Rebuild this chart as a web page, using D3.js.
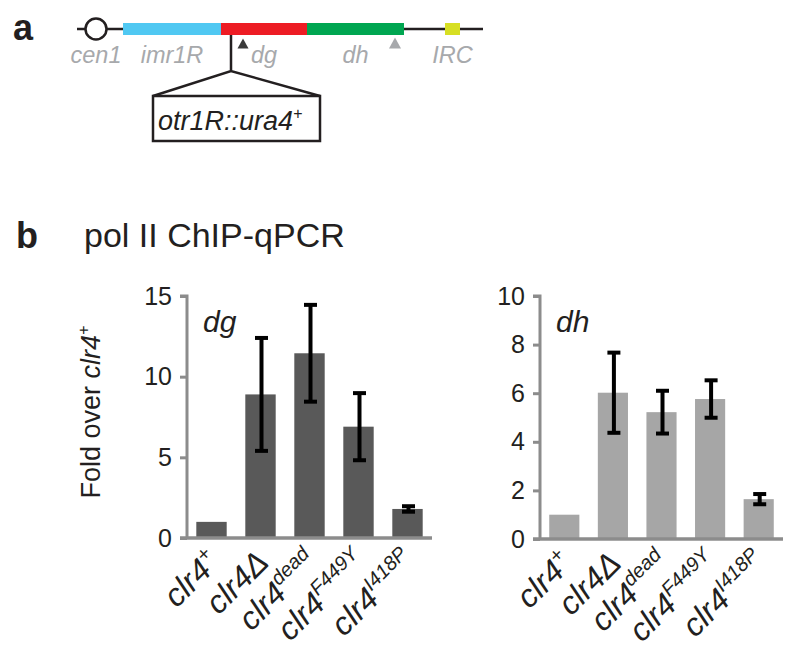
<!DOCTYPE html>
<html>
<head>
<meta charset="utf-8">
<script src="https://cdn.jsdelivr.net/npm/d3@7"></script>
<style>
  html, body { margin: 0; padding: 0; background: #fff; }
  svg { display: block; }
  text { font-family: "Liberation Sans", Arial, Helvetica, sans-serif; }
</style>
</head>
<body>
<svg id="chart" width="800" height="655"></svg>
<script>
// ---------------- DATA ----------------
// panel a: map features in relative map units
const mapExtent = [0, 406];
const centromerePos = 19;
const segNames = ["imr1R", "dg", "dh"];
const segStart = [46, 144, 230];
const segEnd = [144, 230, 327];
const segColors = ["#50c8f2", "#ed1c24", "#00a651"];
const ircStart = 368, ircEnd = 383;
const insertionPos = 154;
const primerDg = 166, primerDh = 318;
const mapLabels = ["cen1", "imr1R", "dg", "dh", "IRC"];
const mapLabelPos = [19, 95, 187, 278.5, 375.5];

// panel b: bar data
const strainMain = ["clr4", "clr4Δ", "clr4", "clr4", "clr4"];
const strainSup = ["+", "", "dead", "F449Y", "I418P"];
const categories = ["clr4+", "clr4Δ", "clr4dead", "clr4F449Y", "clr4I418P"];
const dgValues = [1.0, 8.9, 11.45, 6.9, 1.8];
const dgErrors = [0, 3.5, 3.0, 2.08, 0.17];
const dhValues = [1.0, 6.02, 5.22, 5.76, 1.64];
const dhErrors = [0, 1.65, 0.88, 0.77, 0.21];
const dgTicks = [0, 5, 10, 15];
const dhTicks = [0, 2, 4, 6, 8, 10];

// ---------------- DRAW ----------------
const svg = d3.select("#chart");
const FONT = "'Liberation Sans', Arial, Helvetica, sans-serif";

// ===== Panel a =====
svg.append("text").attr("x", 13).attr("y", 40)
  .attr("font-size", 36).attr("font-weight", "bold").attr("fill", "#231f20").text("a");

const mx = d3.scaleLinear().domain(mapExtent).range([77, 483]);
const lineY = 29;
const ga = svg.append("g");
ga.append("line").attr("x1", mx(mapExtent[0])).attr("x2", mx(mapExtent[1]))
  .attr("y1", lineY).attr("y2", lineY).attr("stroke", "#231f20").attr("stroke-width", 2.5);
ga.selectAll("rect.seg").data(segNames).join("rect").attr("class", "seg")
  .attr("x", (d, i) => mx(segStart[i])).attr("width", (d, i) => mx(segEnd[i]) - mx(segStart[i]))
  .attr("y", lineY - 6).attr("height", 12).attr("fill", (d, i) => segColors[i]);
ga.append("rect").attr("x", mx(ircStart)).attr("width", mx(ircEnd) - mx(ircStart))
  .attr("y", lineY - 6).attr("height", 12).attr("fill", "#d7df23");
ga.append("circle").attr("cx", mx(centromerePos)).attr("cy", lineY).attr("r", 10.5)
  .attr("fill", "#fff").attr("stroke", "#231f20").attr("stroke-width", 2.5);
ga.selectAll("text.maplab").data(mapLabels).join("text").attr("class", "maplab")
  .attr("x", (d, i) => mx(mapLabelPos[i])).attr("y", 63)
  .attr("text-anchor", "middle").attr("font-size", 23.5).attr("font-style", "italic")
  .attr("fill", "#a7a9ac").text(d => d);
// primer triangles
const tri = (x, yTop, w, h) => `M${x},${yTop} L${x + w / 2},${yTop + h} L${x - w / 2},${yTop + h} Z`;
ga.append("path").attr("d", tri(mx(primerDg), 38.5, 11, 10)).attr("fill", "#3a3a3a");
ga.append("path").attr("d", tri(mx(primerDh), 37.5, 12, 11)).attr("fill", "#a7a9ac");
// insertion
const ix = mx(insertionPos);
ga.append("path")
  .attr("d", `M${ix},${lineY + 6} L${ix},71 M${ix - 78},96 L${ix},71 L${ix + 89},96`)
  .attr("fill", "none").attr("stroke", "#231f20").attr("stroke-width", 2.5);
ga.append("rect").attr("x", ix - 78).attr("y", 96).attr("width", 167).attr("height", 45)
  .attr("fill", "#fff").attr("stroke", "#231f20").attr("stroke-width", 2.5);
const ins = ga.append("text").attr("x", ix - 73).attr("y", 130)
  .attr("font-size", 27).attr("font-style", "italic").attr("fill", "#231f20");
ins.append("tspan").text("otr1R::ura4");
ins.append("tspan").attr("dy", -11).attr("font-size", 16).text("+");

// ===== Panel b =====
svg.append("text").attr("x", 16).attr("y", 248)
  .attr("font-size", 36).attr("font-weight", "bold").attr("fill", "#231f20").text("b");
svg.append("text").attr("x", 84).attr("y", 247)
  .attr("font-size", 34).attr("fill", "#231f20").text("pol II ChIP-qPCR");

// y label
const yl = svg.append("text").attr("transform", "translate(100,412) rotate(-90)")
  .attr("text-anchor", "middle").attr("font-size", 27).attr("fill", "#231f20");
yl.append("tspan").text("Fold over ");
yl.append("tspan").attr("font-style", "italic").text("clr4");
yl.append("tspan").attr("font-style", "italic").attr("dy", -11).attr("font-size", 16).text("+");

function barPanel(opts) {
  const { values, errors, ticks, xRange, yRange, color, title, xAxisStart } = opts;
  const g = svg.append("g");
  const x = d3.scaleBand().domain(categories).range(xRange).paddingInner(0.38).paddingOuter(0.19);
  const y = d3.scaleLinear().domain([0, ticks[ticks.length - 1]]).range(yRange);
  const axisColor = "#8c8c8c";

  // bars
  g.selectAll("rect.bar").data(categories).join("rect").attr("class", "bar")
    .attr("x", d => x(d)).attr("width", x.bandwidth())
    .attr("y", (d, i) => y(values[i])).attr("height", (d, i) => y(0) - y(values[i]))
    .attr("fill", color);

  // error bars
  const capW = 13;
  const eb = g.selectAll("g.err").data(categories.filter((d, i) => errors[i] > 0)).join("g").attr("class", "err");
  eb.each(function (d) {
    const i = categories.indexOf(d);
    const cx = x(d) + x.bandwidth() / 2 + 1;
    const hi = y(values[i] + errors[i]), lo = y(values[i] - errors[i]);
    const s = d3.select(this);
    s.append("line").attr("x1", cx).attr("x2", cx).attr("y1", hi).attr("y2", lo)
      .attr("stroke", "#000").attr("stroke-width", 4);
    [hi, lo].forEach(yy => s.append("line").attr("x1", cx - capW / 2).attr("x2", cx + capW / 2)
      .attr("y1", yy).attr("y2", yy).attr("stroke", "#000").attr("stroke-width", 4));
  });

  // y axis
  const yAxis = d3.axisLeft(y).tickValues(ticks).tickSize(7).tickPadding(8).tickFormat(d3.format("d"));
  const ya = g.append("g").attr("transform", `translate(${xRange[0]},0)`).call(yAxis);
  ya.select(".domain").attr("stroke", axisColor).attr("stroke-width", 3)
    .attr("d", `M-7,${y(ticks[ticks.length - 1])} H0 V${y(0)}`);
  ya.selectAll(".tick line").attr("stroke", axisColor).attr("stroke-width", 3);
  ya.selectAll(".tick text").attr("font-size", 25).attr("fill", "#231f20")
    .attr("font-family", FONT);

  // x axis
  const xa = g.append("g").attr("transform", `translate(0,${y(0)})`)
    .call(d3.axisBottom(x).tickSize(0).tickFormat(""));
  xa.select(".domain").attr("stroke", axisColor).attr("stroke-width", 3.5)
    .attr("d", `M${xAxisStart},0 H${xRange[1]}`);

  // x labels
  const lab = g.selectAll("text.xlab").data(categories).join("text").attr("class", "xlab")
    .attr("transform", d => `translate(${x(d) + x.bandwidth() / 2 + 10},${y(0) + 26}) rotate(-45)`)
    .attr("text-anchor", "end").attr("font-size", 32).attr("font-style", "italic").attr("fill", "#231f20");
  lab.each(function (d, i) {
    const t = d3.select(this);
    t.append("tspan").text(strainMain[i]);
    if (strainSup[i]) t.append("tspan").attr("dy", -13).attr("font-size", 20).text(strainSup[i]);
  });

  // panel title
  g.append("text").attr("x", xRange[0] + 16).attr("y", y(ticks[ticks.length - 1]) + 36)
    .attr("font-size", 30).attr("font-style", "italic").attr("fill", "#231f20").text(title);
}

barPanel({ values: dgValues, errors: dgErrors, ticks: dgTicks, xRange: [187, 432], yRange: [538, 296],
  color: "#595959", title: "dg", xAxisStart: 180 });
barPanel({ values: dhValues, errors: dhErrors, ticks: dhTicks, xRange: [540, 783], yRange: [539, 296],
  color: "#a6a6a6", title: "dh", xAxisStart: 533 });
</script>
</body>
</html>
